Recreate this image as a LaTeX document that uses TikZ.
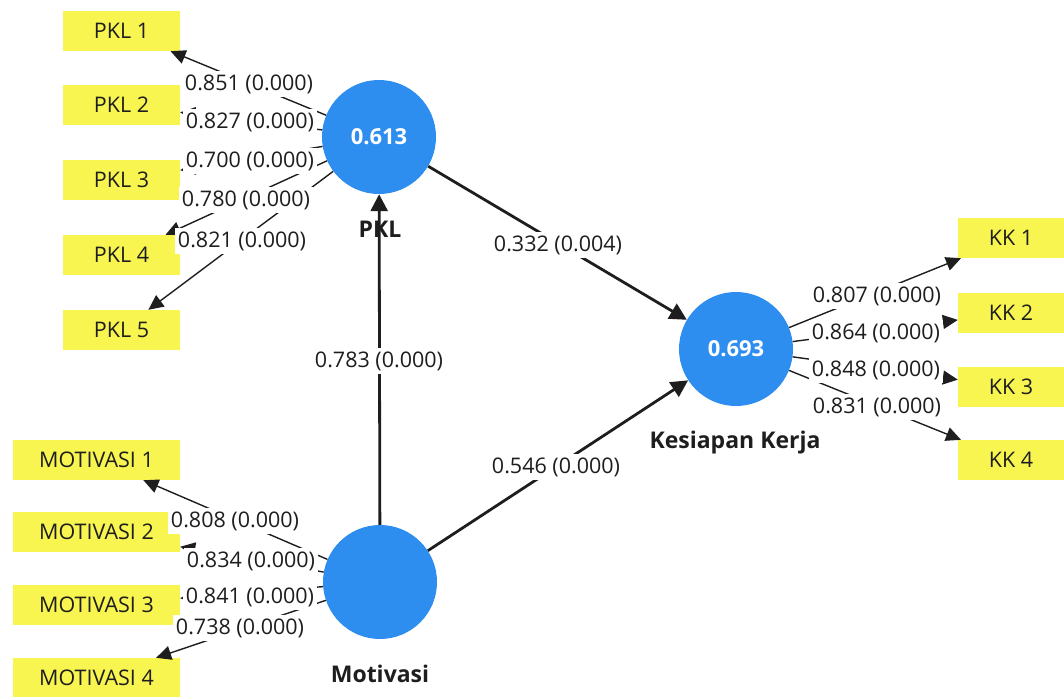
\documentclass[tikz,border=0pt]{standalone}
\usepackage{fontspec}
\setmainfont{Open Sans}
\usetikzlibrary{arrows.meta}
\definecolor{lvblue}{RGB}{46,142,240}
\definecolor{indyellow}{RGB}{248,245,80}
\definecolor{txt}{RGB}{30,30,30}
\tikzset{
  ind/.style={rectangle, fill=indyellow, inner sep=0pt, minimum height=40pt, text=txt, font=\fontsize{21.5}{24}\selectfont},
  lv/.style={circle, fill=lvblue, minimum size=114pt, inner sep=0pt, text=white, font=\bfseries\fontsize{22}{24}\selectfont},
  lvname/.style={text=txt, font=\bfseries\fontsize{23}{26}\selectfont},
  lab/.style={fill=white, inner xsep=3pt, inner ysep=3.5pt, text=txt, font=\fontsize{21.5}{24}\selectfont},
  load/.style={draw=txt, line width=1.4pt, -{Triangle[length=15pt,width=14pt]}},
  spath/.style={draw=txt, line width=2.8pt, -{Triangle[length=17pt,width=17pt]}}
}
\begin{document}
\begin{tikzpicture}[x=1pt,y=-1pt]
\useasboundingbox[fill=white] (0,0) rectangle (1064,696);
% indicators
\node[ind, minimum width=117pt] (p1) at (121.5,31) {PKL 1};
\node[ind, minimum width=117pt] (p2) at (121.5,105) {PKL 2};
\node[ind, minimum width=117pt] (p3) at (121.5,180) {PKL 3};
\node[ind, minimum width=117pt] (p4) at (121.5,255) {PKL 4};
\node[ind, minimum width=117pt] (p5) at (121.5,330) {PKL 5};
\node[ind, minimum width=167pt] (m1) at (96.5,460) {MOTIVASI 1};
\node[ind, minimum width=167pt] (m2) at (96.5,532) {MOTIVASI 2};
\node[ind, minimum width=167pt] (m3) at (96.5,605) {MOTIVASI 3};
\node[ind, minimum width=167pt] (m4) at (96.5,678) {MOTIVASI 4};
\node[ind, minimum width=106pt] (k1) at (1011,238) {KK 1};
\node[ind, minimum width=106pt] (k2) at (1011,313) {KK 2};
\node[ind, minimum width=106pt] (k3) at (1011,387) {KK 3};
\node[ind, minimum width=106pt] (k4) at (1011,460) {KK 4};
% latent variables
\node[lv] (pkl) at (379,137) {0.613};
\node[lv] (mot) at (380,582) {};
\node[lv] (kk) at (736,349) {0.693};
\node[lvname] (pklname) at (380,229) {PKL};
\node[lvname] (motname) at (380,674) {Motivasi};
\node[lvname] (kkname) at (735,443) {Kesiapan Kerja};
% outer loadings
\foreach \t in {p1,p2,p3,p4,p5} \draw[load] (pkl) -- (\t);
\foreach \t in {m1,m2,m3,m4} \draw[load] (mot) -- (\t);
\foreach \t in {k1,k2,k3,k4} \draw[load] (kk) -- (\t);
% structural paths
\draw[spath] (mot) -- (pkl);
\draw[spath] (pkl) -- (kk);
\draw[spath] (mot) -- (kk);
% labels
\node[lab] (lp1) at (249,84) {0.851 (0.000)};
\node[lab] (lp2) at (250,122) {0.827 (0.000)};
\node[lab] (lp3) at (250,161) {0.700 (0.000)};
\node[lab] (lp4) at (246,200) {0.780 (0.000)};
\node[lab] (lp5) at (242,241) {0.821 (0.000)};
\node[lab] (lm1) at (235,521) {0.808 (0.000)};
\node[lab] (lm2) at (251,561) {0.834 (0.000)};
\node[lab] (lm3) at (250,597) {0.841 (0.000)};
\node[lab] (lm4) at (240,628) {0.738 (0.000)};
\node[lab] (lk1) at (877,296) {0.807 (0.000)};
\node[lab] (lk2) at (876,333) {0.864 (0.000)};
\node[lab] (lk3) at (876,370) {0.848 (0.000)};
\node[lab] (lk4) at (877,407) {0.831 (0.000)};
\node[lab] (ls1) at (379,361) {0.783 (0.000)};
\node[lab] (ls2) at (558,245) {0.332 (0.004)};
\node[lab] (ls3) at (556,467) {0.546 (0.000)};
\end{tikzpicture}
\end{document}
